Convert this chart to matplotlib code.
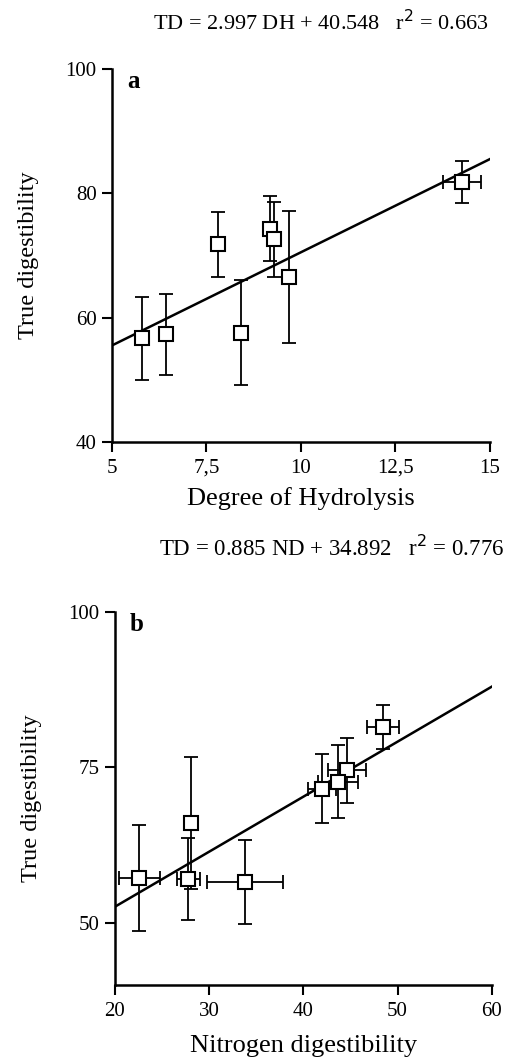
import matplotlib
matplotlib.use('Agg')
import matplotlib.pyplot as plt
import numpy as np

plt.rcParams['font.family'] = ['Liberation Serif', 'DejaVu Serif']

# panel a: degree of hydrolysis vs true digestibility
dh = [5.8, 6.43, 7.81, 8.41, 9.19, 9.29, 9.69, 14.27]
dh_err = [0, 0, 0, 0, 0, 0, 0, 0.5]
td = [56.7, 57.3, 71.8, 57.6, 74.3, 72.6, 66.5, 81.8]
td_err = [6.7, 6.5, 5.2, 8.4, 5.2, 6.0, 10.6, 3.4]

# panel b: nitrogen digestibility vs true digestibility
nd = [33.8, 27.8, 42.0, 22.6, 44.6, 43.65, 28.05, 48.4]
nd_err = [4.0, 1.2, 1.5, 2.2, 2.0, 2.1, 0, 1.7]
td_b = [56.6, 57.0, 71.6, 57.2, 74.5, 72.7, 66.1, 81.5]
td_b_err = [6.8, 6.6, 5.5, 8.5, 5.3, 5.9, 10.6, 3.5]

fit_a = (2.997, 40.548)
fit_b = (0.885, 34.892)


def panel(ax, x, xerr, y, yerr, fit, xlim, xticks, xticklabels, yticks, letter, xlabel, xpad):
    xx = np.array(xlim)
    ax.plot(xx, fit[0] * xx + fit[1], color='black', lw=1.8, zorder=2)
    ax.errorbar(x, y, yerr=yerr, xerr=xerr, fmt='none', ecolor='black',
                elinewidth=1.3, capsize=5, capthick=1.3, zorder=3)
    ax.plot(x, y, 's', ms=9.5, mfc='white', mec='black', mew=1.5, zorder=4)
    ax.set_xlim(xlim)
    ax.set_ylim(40, 100)
    ax.set_xticks(xticks)
    ax.set_xticklabels(xticklabels)
    ax.set_yticks(yticks)
    for s in ['top', 'right']:
        ax.spines[s].set_visible(False)
    for s in ['left', 'bottom']:
        ax.spines[s].set_linewidth(1.8)
    ax.tick_params(direction='out', length=7, width=1.5, labelsize=15, pad=4)
    ax.tick_params(axis='x', pad=5)
    ax.set_ylabel('True digestibility', fontsize=17.5, labelpad=19)
    ax.set_xlabel(xlabel, fontsize=19, labelpad=xpad)
    ax.text(0.04, 0.998, letter, transform=ax.transAxes, fontsize=18,
            fontweight='bold', va='top', ha='left')


fig = plt.figure(figsize=(5.12, 10.63), dpi=100)

ax1 = fig.add_axes([0.21875, 0.5842, 0.738, 0.3509])
panel(ax1, dh, dh_err, td, td_err, fit_a, (5, 15), [5, 7.5, 10, 12.5, 15],
      ['5', '7,5', '10', '12,5', '15'], [40, 60, 80, 100], 'a',
      'Degree of Hydrolysis', 7)
fig.text(0.627, 0.979, 'TD = 2.997 DH + 40.548   r$^2$ = 0.663', fontsize=16,
         ha='center', va='center')

ax2 = fig.add_axes([0.2246, 0.0734, 0.736, 0.3509])
panel(ax2, nd, nd_err, td_b, td_b_err, fit_b, (20, 60), [20, 30, 40, 50, 60],
      ['20', '30', '40', '50', '60'], [50, 75, 100], 'b',
      'Nitrogen digestibility', 10)
fig.text(0.647, 0.484, 'TD = 0.885 ND + 34.892   r$^2$ = 0.776', fontsize=16.5,
         ha='center', va='center')

plt.savefig('out.png', dpi=100)
